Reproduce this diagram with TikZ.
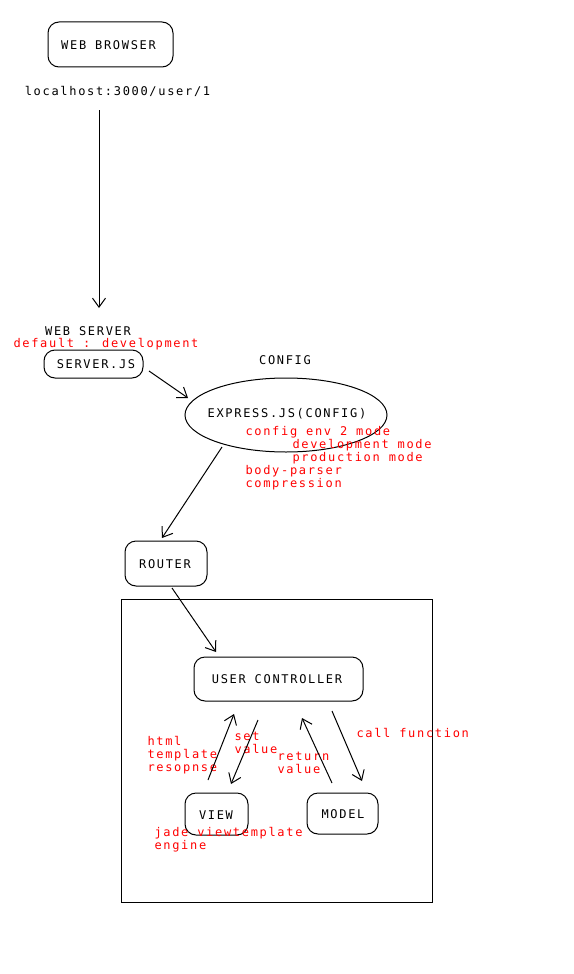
\documentclass[tikz,border=0pt]{standalone}
\usepackage{fontspec}
\newfontfamily\paintfont[LetterSpace=14]{DejaVu Sans Mono}
\usetikzlibrary{arrows.meta,shapes.geometric}

\tikzset{every picture/.style={line width=1pt}}
\tikzset{
  box/.style={draw, rounded corners=11pt, inner sep=0pt},
  lbl/.style={font=\paintfont\fontsize{12}{13}\selectfont, inner sep=0pt},
  note/.style={lbl, text=red, anchor=north west, align=left},
  arr/.style={-{Straight Barb[length=9pt,width=13pt]}},
}

\begin{document}
\begin{tikzpicture}[x=1pt,y=1pt,yscale=-1]
	\useasboundingbox (0,0) rectangle (573,974);

	%Rounded Rect
	\node[box, minimum width=125, minimum height=45] (browser) at (110.5,44.5) {};
	% Text Node
	\node[lbl] at (108.5,45) {WEB BROWSER};
	% Text Node
	\node[lbl] (url) at (117.5,91.5) {localhost:3000/user/1};

	% Text Node
	\node[lbl] (websrv) at (88,331) {WEB SERVER};
	\node[lbl, text=red] (default) at (106,344.5) {default : development};
	%Rounded Rect
	\node[box, minimum width=99, minimum height=28] (server) at (93.5,364) {};
	\node[lbl] at (96,364.5) {SERVER.JS};

	% Text Node
	\node[lbl] (cfg) at (285,360.5) {CONFIG};
	%Ellipse
	\node[draw, ellipse, minimum width=202, minimum height=74, inner sep=0pt] (express) at (286,415) {};
	\node[lbl] at (287,413.5) {EXPRESS.JS(CONFIG)};
	% Text Node
	\node[note] (cfgnote) at (245,425.5) {config env 2 mode\\
		\hspace*{47pt}development mode\\
		\hspace*{47pt}production mode\\
		body-parser\\
		compression};

	%Rounded Rect
	\node[box, minimum width=82, minimum height=45] (router) at (166,563.5) {};
	\node[lbl] at (165,564.5) {ROUTER};

	%Shape: Rectangle
	\node[draw, minimum width=311, minimum height=303, inner sep=0pt] (mvc) at (276.5,750.5) {};

	%Rounded Rect
	\node[box, minimum width=169, minimum height=44] (ctrl) at (278.5,679) {};
	\node[lbl] at (277,679.5) {USER CONTROLLER};
	\node[box, minimum width=63, minimum height=42] (view) at (216.5,814) {};
	\node[lbl] at (216,815.5) {VIEW};
	\node[box, minimum width=71, minimum height=41] (model) at (342.5,813.5) {};
	\node[lbl] at (343,814.5) {MODEL};

	% Text Node
	\node[note] (htmlnote) at (147,736) {html\\template\\resopnse};
	\node[note] (setnote) at (234,732) {set\\value};
	\node[note] (retnote) at (277,752) {return\\value};
	\node[note] (callnote) at (356,728) {call function};
	\node[note] (jadenote) at (154,827) {jade viewtemplate\\engine};

	%Straight Lines
	\coordinate (u1) at (99,110);
	\coordinate (u2) at (99,308);
	\coordinate (s1) at (149,371);
	\coordinate (s2) at (188,398);
	\coordinate (e1) at (222,447);
	\coordinate (e2) at (162,538);
	\coordinate (r1) at (172,588);
	\coordinate (r2) at (216,652);
	\coordinate (v1) at (208,780);
	\coordinate (v2) at (234,714);
	\coordinate (c1) at (258,720);
	\coordinate (c2) at (231,784);
	\coordinate (m1) at (332,783);
	\coordinate (m2) at (302,718);
	\coordinate (c3) at (332,711);
	\coordinate (c4) at (362,781);
	\draw[arr] (u1) -- (u2);
	\draw[arr] (s1) -- (s2);
	\draw[arr] (e1) -- (e2);
	\draw[arr] (r1) -- (r2);
	\draw[arr] (v1) -- (v2);
	\draw[arr] (c1) -- (c2);
	\draw[arr] (m1) -- (m2);
	\draw[arr] (c3) -- (c4);
\end{tikzpicture}
\end{document}
